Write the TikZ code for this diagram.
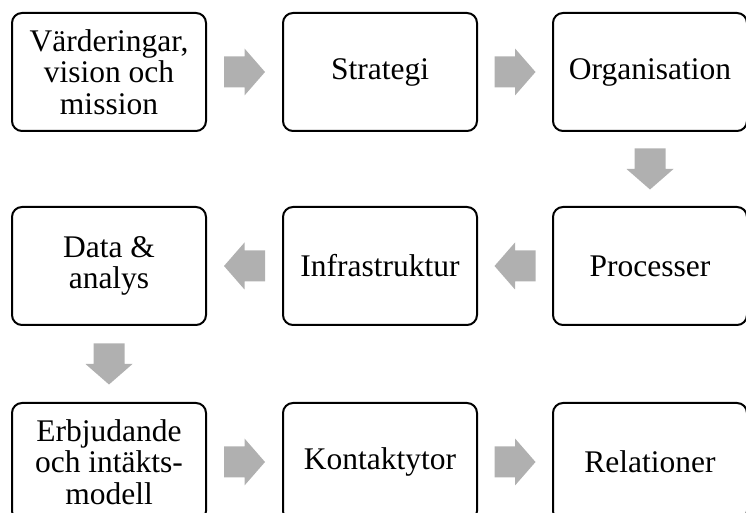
\documentclass[tikz,border=0pt]{standalone}
\usepackage{fontspec}
\setmainfont{Liberation Serif}
\usetikzlibrary{calc}
\definecolor{arrowgray}{RGB}{176,176,176}
\tikzset{
  x=1pt, y=1pt,
  box/.style={draw=black, line width=2pt, rounded corners=10pt, fill=white,
    minimum width=194pt, minimum height=118pt, inner sep=2pt, align=center,
    font=\fontsize{31.5}{31.5}\selectfont},
  barrow/.pic={\fill[arrowgray] (-20.5,-15.5) -- (0,-15.5) -- (0,-23.5) -- (20.5,0) -- (0,23.5) -- (0,15.5) -- (-20.5,15.5) -- cycle;}
}
\begin{document}
\begin{tikzpicture}
\useasboundingbox (0,0) rectangle (746,513);
% row 1
\node[box] (v) at (109,441) {Värderingar,\\vision och\\mission};
\node[box] (s) at (380,441) {Strategi};
\node[box] (o) at (650,441) {Organisation};
% row 2
\node[box] (d) at (109,247) {Data \&\\analys};
\node[box] (i) at (380,247) {Infrastruktur};
\node[box] (p) at (650,247) {Processer};
% row 3
\node[box] (e) at (109,51) {Erbjudande\\och intäkts-\\modell};
\node[box] (k) at (380,51) {Kontaktytor};
\node[box] (r) at (650,51) {Relationer};
% arrows
\pic at ($(v.east)!0.5!(s.west)$) {barrow};
\pic at ($(s.east)!0.5!(o.west)$) {barrow};
\pic[rotate=-90] at ($(o.south)!0.5!(p.north)$) {barrow};
\pic[rotate=180] at ($(p.west)!0.5!(i.east)$) {barrow};
\pic[rotate=180] at ($(i.west)!0.5!(d.east)$) {barrow};
\pic[rotate=-90] at ($(d.south)!0.5!(e.north)$) {barrow};
\pic at ($(e.east)!0.5!(k.west)$) {barrow};
\pic at ($(k.east)!0.5!(r.west)$) {barrow};
\end{tikzpicture}
\end{document}
